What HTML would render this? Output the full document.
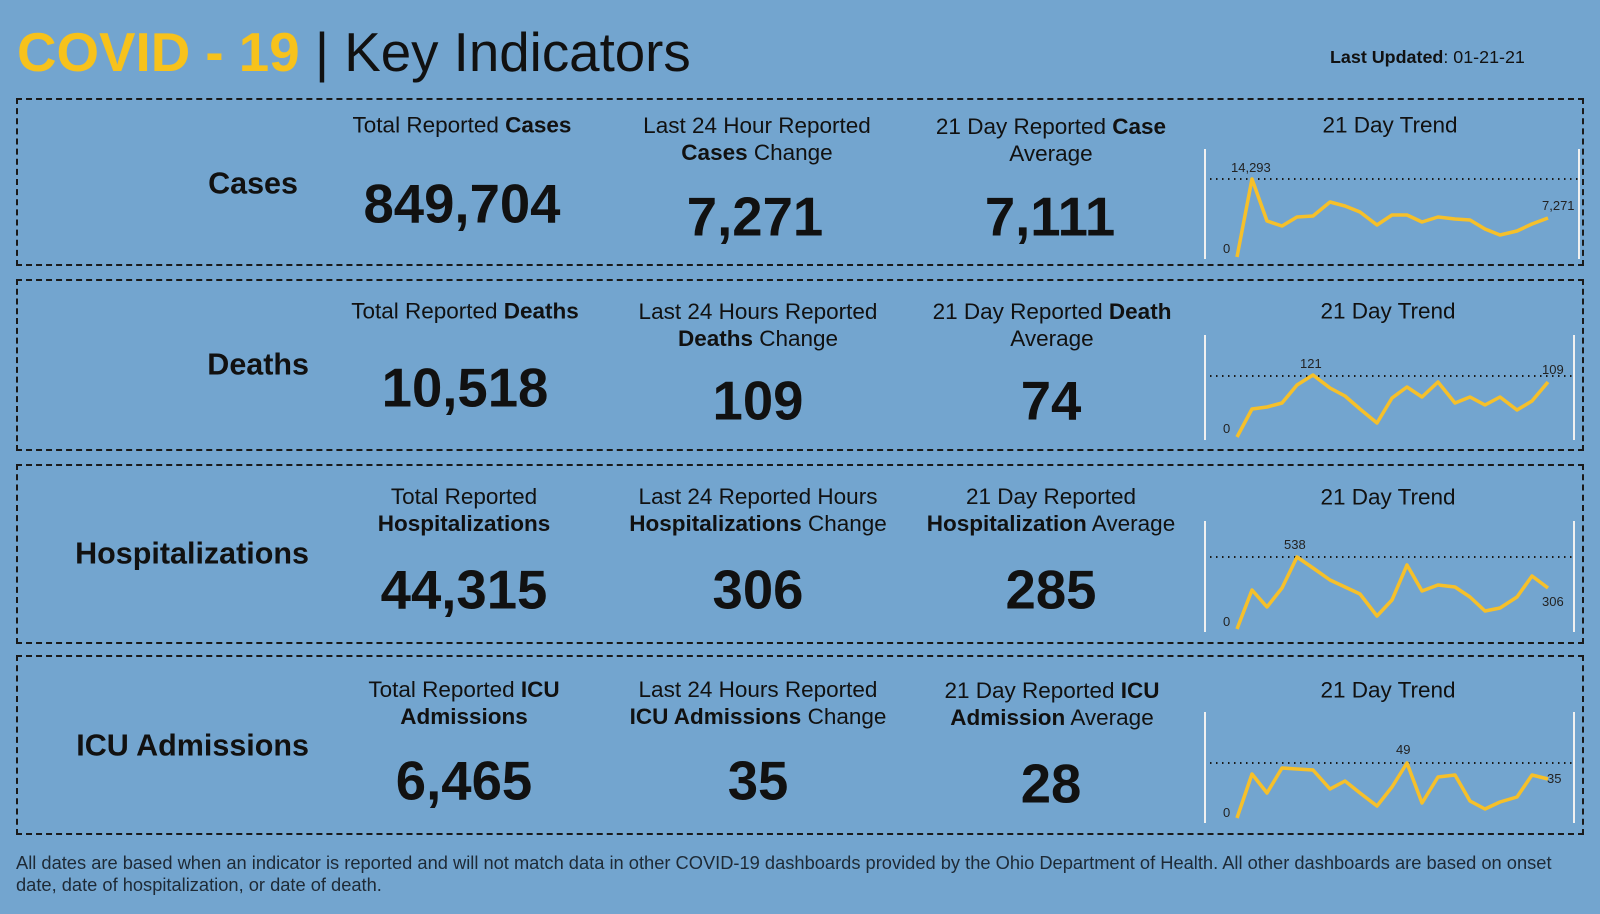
<!DOCTYPE html>
<html><head><meta charset="utf-8"><style>
body{margin:0;width:1600px;height:914px;background:#73a5cf;font-family:"Liberation Sans",Arial,sans-serif;color:#111;position:relative;overflow:hidden}
.a{position:absolute;white-space:nowrap}
.c{transform:translate(-50%,-50%);text-align:center}
.r{transform:translate(-100%,-50%);text-align:right}
.h{font-size:22.5px;line-height:27px}
.n{font-size:54.5px;font-weight:bold}
.l{font-size:30.5px;font-weight:bold}
.box{position:absolute;left:16px;width:1568px;border:2px dashed #1a1a1a;box-sizing:border-box}
</style></head><body>
<div class="a" style="left:17px;top:20px;font-size:54.7px;line-height:64px"><b style="color:#f7c21b">COVID - 19</b> | Key Indicators</div>
<div class="a" style="left:1330px;top:47px;font-size:17.9px"><b>Last Updated</b>: 01-21-21</div>

<div class="box" style="top:98px;height:168px"></div>
<div class="box" style="top:279px;height:172px"></div>
<div class="box" style="top:464px;height:180px"></div>
<div class="box" style="top:655px;height:180px"></div>

<div class="a r l" style="left:298px;top:184px">Cases</div>
<div class="a c h" style="left:462px;top:125px">Total Reported <b>Cases</b></div>
<div class="a c h" style="left:757px;top:139px">Last 24 Hour Reported<br><b>Cases</b> Change</div>
<div class="a c h" style="left:1051px;top:140px">21 Day Reported <b>Case</b><br>Average</div>
<div class="a c h" style="left:1390px;top:125px">21 Day Trend</div>
<div class="a c n" style="left:462px;top:204px">849,704</div>
<div class="a c n" style="left:755px;top:217px">7,271</div>
<div class="a c n" style="left:1050px;top:217px">7,111</div>

<div class="a r l" style="left:309px;top:365px">Deaths</div>
<div class="a c h" style="left:465px;top:311px">Total Reported <b>Deaths</b></div>
<div class="a c h" style="left:758px;top:325px">Last 24 Hours Reported<br><b>Deaths</b> Change</div>
<div class="a c h" style="left:1052px;top:325px">21 Day Reported <b>Death</b><br>Average</div>
<div class="a c h" style="left:1388px;top:311px">21 Day Trend</div>
<div class="a c n" style="left:465px;top:388px">10,518</div>
<div class="a c n" style="left:758px;top:401px">109</div>
<div class="a c n" style="left:1051px;top:401px">74</div>

<div class="a r l" style="left:309px;top:554px">Hospitalizations</div>
<div class="a c h" style="left:464px;top:510px">Total Reported<br><b>Hospitalizations</b></div>
<div class="a c h" style="left:758px;top:510px">Last 24 Reported Hours<br><b>Hospitalizations</b> Change</div>
<div class="a c h" style="left:1051px;top:510px">21 Day Reported<br><b>Hospitalization</b> Average</div>
<div class="a c h" style="left:1388px;top:497px">21 Day Trend</div>
<div class="a c n" style="left:464px;top:590px">44,315</div>
<div class="a c n" style="left:758px;top:590px">306</div>
<div class="a c n" style="left:1051px;top:590px">285</div>

<div class="a r l" style="left:309px;top:746px">ICU Admissions</div>
<div class="a c h" style="left:464px;top:703px">Total Reported <b>ICU</b><br><b>Admissions</b></div>
<div class="a c h" style="left:758px;top:703px">Last 24 Hours Reported<br><b>ICU Admissions</b> Change</div>
<div class="a c h" style="left:1052px;top:704px">21 Day Reported <b>ICU</b><br><b>Admission</b> Average</div>
<div class="a c h" style="left:1388px;top:690px">21 Day Trend</div>
<div class="a c n" style="left:464px;top:781px">6,465</div>
<div class="a c n" style="left:758px;top:781px">35</div>
<div class="a c n" style="left:1051px;top:784px">28</div>

<div class="a" style="left:16px;top:852px;font-size:18.3px;line-height:22px;color:#1e2a36;white-space:normal;width:1560px">All dates are based when an indicator is reported and will not match data in other COVID-19 dashboards provided by the Ohio Department of Health. All other dashboards are based on onset date, date of hospitalization, or date of death.</div>

<svg class="a" style="left:0;top:0" width="1600" height="914" font-family="Liberation Sans,Arial,sans-serif" font-size="13" fill="#222">
<g stroke="#f0f0f0" stroke-width="2">
<line x1="1205" y1="149" x2="1205" y2="259"/><line x1="1579" y1="149" x2="1579" y2="259"/>
<line x1="1205" y1="335" x2="1205" y2="440"/><line x1="1574" y1="335" x2="1574" y2="440"/>
<line x1="1205" y1="521" x2="1205" y2="632"/><line x1="1574" y1="521" x2="1574" y2="632"/>
<line x1="1205" y1="712" x2="1205" y2="823"/><line x1="1574" y1="712" x2="1574" y2="823"/>
</g>
<g stroke="#1a1a1a" stroke-width="2" stroke-dasharray="1.5 4.5">
<line x1="1210" y1="179" x2="1580" y2="179"/>
<line x1="1210" y1="376" x2="1575" y2="376"/>
<line x1="1210" y1="557" x2="1575" y2="557"/>
<line x1="1210" y1="763" x2="1575" y2="763"/>
</g>
<g fill="none" stroke="#f6c02a" stroke-width="3.5" stroke-linejoin="round">
<polyline points="1237,257 1252,179 1267,221 1282,226 1297,217 1313,216 1330,202 1345,206 1360,212 1377,225 1392,215 1407,215 1422,222 1438,217 1455,219 1470,220 1485,229 1500,235 1517,231 1532,224 1548,218"/>
<polyline points="1237,437 1252,409 1267,407 1282,403 1297,385 1313,375 1330,388 1345,396 1360,409 1377,423 1392,398 1407,387 1422,397 1438,382 1455,403 1470,397 1485,405 1500,397 1517,410 1532,401 1548,382"/>
<polyline points="1237,629 1252,590 1267,607 1282,588 1297,557 1313,568 1330,580 1345,587 1360,594 1377,616 1392,600 1407,565 1422,591 1438,585 1455,587 1470,597 1485,611 1500,608 1517,597 1532,576 1548,588"/>
<polyline points="1237,818 1252,774 1267,793 1282,768 1297,769 1313,770 1330,789 1345,781 1360,793 1377,806 1392,787 1407,763 1422,803 1438,777 1455,775 1470,801 1485,809 1500,802 1517,797 1532,775 1548,779"/>
</g>
<text x="1231" y="172">14,293</text><text x="1542" y="210">7,271</text><text x="1223" y="253">0</text>
<text x="1300" y="368">121</text><text x="1542" y="374">109</text><text x="1223" y="433">0</text>
<text x="1284" y="549">538</text><text x="1542" y="606">306</text><text x="1223" y="626">0</text>
<text x="1396" y="754">49</text><text x="1547" y="783">35</text><text x="1223" y="817">0</text>
</svg>
</body></html>
